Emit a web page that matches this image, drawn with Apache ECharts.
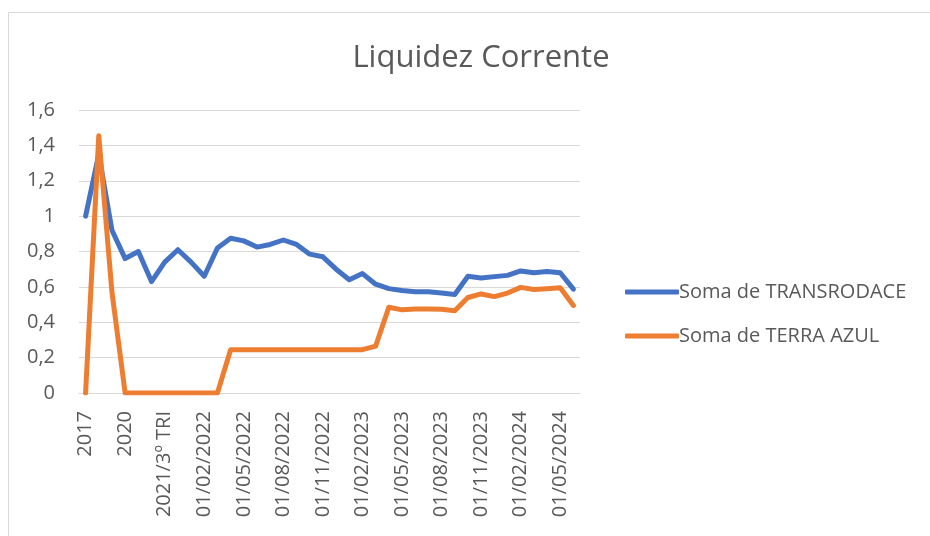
<!DOCTYPE html>
<html>
<head>
<meta charset="utf-8">
<script src="https://cdn.jsdelivr.net/npm/echarts@6/dist/echarts.min.js"></script>
<style>
  html, body { margin: 0; padding: 0; background: #fff; }
  #chart { width: 930px; height: 536px; }
</style>
</head>
<body>
<div id="chart"></div>
<script>
// categorias do eixo x
var categories = [
  '2017', '2018', '2019', '2020',
  '2021/1º TRI', '2021/2º TRI', '2021/3º TRI', '2021/4º TRI',
  '01/01/2022', '01/02/2022', '01/03/2022', '01/04/2022', '01/05/2022', '01/06/2022',
  '01/07/2022', '01/08/2022', '01/09/2022', '01/10/2022', '01/11/2022', '01/12/2022',
  '01/01/2023', '01/02/2023', '01/03/2023', '01/04/2023', '01/05/2023', '01/06/2023',
  '01/07/2023', '01/08/2023', '01/09/2023', '01/10/2023', '01/11/2023', '01/12/2023',
  '01/01/2024', '01/02/2024', '01/03/2024', '01/04/2024', '01/05/2024', '01/06/2024'
];

var transrodace = [
  1.00, 1.35, 0.92, 0.76, 0.80, 0.63, 0.74, 0.81, 0.74, 0.66,
  0.82, 0.875, 0.86, 0.825, 0.84, 0.865, 0.84, 0.785, 0.77, 0.70,
  0.64, 0.675, 0.615, 0.59, 0.58, 0.572, 0.573, 0.565, 0.557, 0.66,
  0.65, 0.658, 0.665, 0.69, 0.68, 0.687, 0.68, 0.587
];

var terraAzul = [
  0, 1.455, 0.57, 0, 0, 0, 0, 0, 0, 0,
  0, 0.245, 0.245, 0.245, 0.245, 0.245, 0.245, 0.245, 0.245, 0.245,
  0.245, 0.245, 0.265, 0.485, 0.47, 0.475, 0.475, 0.473, 0.465, 0.54,
  0.56, 0.545, 0.565, 0.597, 0.585, 0.59, 0.595, 0.495
];

var yTicks = { min: 0, max: 1.6, interval: 0.2 };

var font = '"Open Sans", "Noto Sans", sans-serif';
var grey = '#595959';

var chart = echarts.init(document.getElementById('chart'));

chart.setOption({
  animation: false,
  color: ['#4472C4', '#ED7D31'],
  textStyle: { fontFamily: font },
  graphic: [{
    type: 'rect',
    shape: { x: 8.5, y: 12.5, width: 1000, height: 1000 },
    style: { fill: 'none', stroke: '#d9d9d9', lineWidth: 1 },
    silent: true
  }],
  title: {
    text: 'Liquidez Corrente',
    left: 476,
    textAlign: 'center',
    top: 38,
    textStyle: { fontFamily: font, fontSize: 31, fontWeight: 'normal', color: grey }
  },
  legend: {
    orient: 'vertical',
    left: 620,
    top: 277,
    icon: 'roundRect',
    itemWidth: 54,
    itemHeight: 5,
    itemGap: 24,
    textStyle: { fontFamily: font, fontSize: 20, color: grey, padding: [0, 0, 0, -5] },
    data: ['Soma de TRANSRODACE', 'Soma de TERRA AZUL']
  },
  grid: { left: 79, right: 350, top: 110, bottom: 143, containLabel: false },
  xAxis: {
    type: 'category',
    data: categories,
    boundaryGap: true,
    axisLine: { show: true, lineStyle: { color: '#d9d9d9', width: 1 } },
    axisTick: { show: false },
    axisLabel: {
      interval: 2,
      rotate: 90,
      margin: 18,
      fontFamily: font,
      fontSize: 20,
      color: grey
    }
  },
  yAxis: {
    type: 'value',
    min: yTicks.min,
    max: yTicks.max,
    interval: yTicks.interval,
    axisLine: { show: false },
    axisTick: { show: false },
    splitLine: { lineStyle: { color: '#d9d9d9', width: 1 } },
    axisLabel: {
      margin: 24,
      fontFamily: font,
      fontSize: 20,
      color: grey,
      formatter: function (v) { return String(Math.round(v * 10) / 10).replace('.', ','); }
    }
  },
  series: [
    {
      name: 'Soma de TRANSRODACE',
      type: 'line',
      data: transrodace,
      symbol: 'none',
      lineStyle: { width: 5, cap: 'round', join: 'round' }
    },
    {
      name: 'Soma de TERRA AZUL',
      type: 'line',
      data: terraAzul,
      symbol: 'none',
      lineStyle: { width: 5, cap: 'round', join: 'round' }
    }
  ]
});
</script>
</body>
</html>
